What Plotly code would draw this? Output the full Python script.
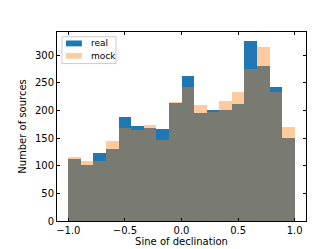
import numpy as np
import plotly.graph_objects as go

bin_edges = np.linspace(-1.0, 1.0, 19)
real_counts = [112, 101, 123, 130, 189, 172, 168, 167, 213, 262, 195, 201, 200, 211, 326, 281, 243, 151]
mock_counts = [116, 108, 109, 144, 168, 165, 174, 147, 215, 243, 210, 198, 218, 234, 275, 315, 234, 170]
x_ticks = [-1.0, -0.5, 0.0, 0.5, 1.0]
x_tick_labels = ["\u22121.0", "\u22120.5", "0.0", "0.5", "1.0"]
y_ticks = [0, 50, 100, 150, 200, 250, 300]
series_names = ["real", "mock"]
series_colors = ["#1f77b4", "#ff7f0e"]
series_opacity = [1.0, 0.4]

centers = (bin_edges[:-1] + bin_edges[1:]) / 2
widths = np.diff(bin_edges)

fig = go.Figure()
for name, counts, color, op in zip(series_names, [real_counts, mock_counts], series_colors, series_opacity):
    fig.add_trace(go.Bar(x=centers, y=counts, width=widths, name=name,
                         marker=dict(color=color, line=dict(width=0)), opacity=op,
                         showlegend=False))

axis_common = dict(ticks="inside", ticklen=3.5, tickwidth=0.8, tickcolor="black",
                   showline=True, linecolor="black", linewidth=0.8, mirror="ticks",
                   showgrid=False, zeroline=False,
                   tickfont=dict(family="DejaVu Sans", size=10, color="black"))

# custom matplotlib-style legend
shapes = [dict(type="rect", xref="paper", yref="paper", x0=0.020, x1=0.237, y0=0.833, y1=0.975,
               line=dict(color="#cccccc", width=1), fillcolor="rgba(255,255,255,0.8)", layer="above")]
annotations = []
patch_y = [(0.924, 0.955), (0.859, 0.889)]
text_y = [0.940, 0.874]
for name, color, op, (py0, py1), ty in zip(series_names, series_colors, series_opacity, patch_y, text_y):
    shapes.append(dict(type="rect", xref="paper", yref="paper", x0=0.036, x1=0.100, y0=py0, y1=py1,
                       line=dict(width=0), fillcolor=color, opacity=op, layer="above"))
    annotations.append(dict(xref="paper", yref="paper", x=0.128, y=ty, xanchor="left", yanchor="middle",
                            text=name, showarrow=False, font=dict(size=9, family="DejaVu Sans", color="black")))

fig.update_layout(
    barmode="overlay", bargap=0,
    width=332, height=249,
    margin=dict(l=49, r=34, t=24, b=27),
    paper_bgcolor="white", plot_bgcolor="white",
    font=dict(family="DejaVu Sans", size=10, color="black"),
    xaxis=dict(range=[-1.1, 1.1], tickvals=x_ticks, ticktext=x_tick_labels,
               title=dict(text="Sine of declination", font=dict(size=10), standoff=2),
               **axis_common),
    yaxis=dict(range=[0, 342], tickvals=y_ticks,
               title=dict(text="Number of sources", font=dict(size=10), standoff=6),
               **axis_common),
    shapes=shapes,
    annotations=annotations,
    showlegend=False,
)

fig.write_html("out.html")
